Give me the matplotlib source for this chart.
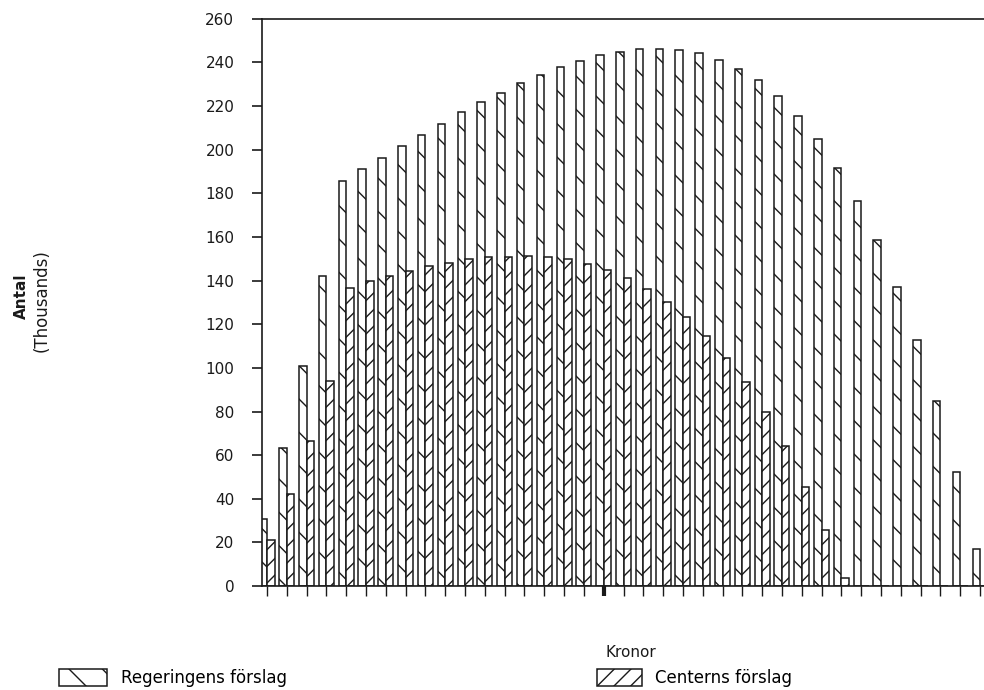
import matplotlib
matplotlib.use("Agg")
import matplotlib.pyplot as plt
import numpy as np

# values in thousands, one pair of bars per income step
regeringen = [30.5, 63.3, 100.7, 142, 185.7, 191.2, 196.3, 201.8, 206.7, 212,
              217.1, 222, 226.2, 230.4, 234.2, 238, 240.7, 243.3, 245, 246.4,
              246.4, 245.9, 244.4, 241.3, 237.2, 231.9, 224.7, 215.6, 204.7, 191.7,
              176.5, 158.6, 137.3, 112.6, 84.6, 52.3, 16.8]
centern = [20.9, 42, 66.7, 93.8, 136.8, 139.6, 142.2, 144.5, 146.5, 148.3,
           149.8, 150.7, 150.9, 151.4, 150.6, 149.9, 147.5, 144.9, 141.1, 136.2,
           130.4, 123.1, 114.8, 104.5, 93.4, 79.8, 64, 45.6, 25.9, 3.5,
           0, 0, 0, 0, 0, 0, 0]
y_ticks = [0, 20, 40, 60, 80, 100, 120, 140, 160, 180, 200, 220, 240, 260]

ink = "#1a1a1a"
plt.rcParams['hatch.linewidth'] = 1.0
plt.rcParams['hatch.color'] = ink

fig = plt.figure(figsize=(9.84, 6.9), dpi=100)
ax = fig.add_axes([0.2663, 0.1507, 0.7337, 0.822])

x = np.arange(len(regeringen))
w = 0.38
b1 = ax.bar(x - w / 2, regeringen, width=w, facecolor="white", edgecolor=ink,
            linewidth=1.1, hatch="\\", label="Regeringens förslag")
b2 = ax.bar(x + w / 2, centern, width=w, facecolor="white", edgecolor=ink,
            linewidth=1.1, hatch="//", label="Centerns förslag")

ax.set_xlim(-0.25, 36.2)
ax.set_ylim(0, 260)
ax.set_yticks(y_ticks)
ax.set_xticks(x)
ax.set_xticklabels([])
ax.tick_params(axis="y", direction="out", length=7, width=1.2, pad=13,
               labelsize=11, colors=ink)
ax.tick_params(axis="x", direction="out", length=7, width=1.0, colors=ink)
ax.xaxis.get_major_ticks()[17].tick1line.set_markeredgewidth(3)
ax.spines["right"].set_visible(False)
for s in ["left", "bottom", "top"]:
    ax.spines[s].set_color(ink)
    ax.spines[s].set_linewidth(1.2)

fig.text(0.0213, 0.571, "Antal", rotation=90, ha="center", va="center",
         fontsize=11, fontweight="bold", color=ink)
fig.text(0.0427, 0.565, "(Thousands)", rotation=90, ha="center", va="center",
         fontsize=12, color=ink)
fig.text(0.641, 0.054, "Kronor", ha="center", va="center", fontsize=11, color=ink)

fig.legend(handles=[b1], labels=["Regeringens förslag"], loc="center left",
           bbox_to_anchor=(0.060, 0.0174), frameon=False, fontsize=12,
           handlelength=2.9, handleheight=1.2, borderpad=0, borderaxespad=0)
fig.legend(handles=[b2], labels=["Centerns förslag"], loc="center left",
           bbox_to_anchor=(0.6067, 0.0174), frameon=False, fontsize=12,
           handlelength=2.7, handleheight=1.2, borderpad=0, borderaxespad=0)

fig.savefig("out.png", dpi=100, facecolor="white")
